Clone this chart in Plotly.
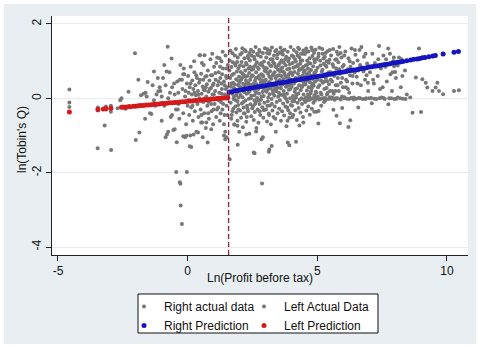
import plotly.graph_objects as go

# ---------------- data ----------------
threshold = 1.58
x_ticks = [-5, 0, 5, 10]
y_ticks = [-4, -2, 0, 2]
y_tick_text = ["-4", "-2", "0", "2"]
x_tick_text = ["-5", "0", "5", "10"]

right_actual = [
    (1.62,1.02),(1.64,0.55),(1.66,-0.12),(1.67,0.31),(1.69,0.84),(1.7,-0.45),(1.72,0.12),(1.73,1.21),(1.75,0.42),(1.76,-0.28),
    (1.78,0.66),(1.79,0.05),(1.8,-0.71),(1.82,0.93),(1.83,0.24),(1.85,-0.05),(1.86,1.33),(1.87,0.51),(1.88,-0.38),(1.9,0.72),
    (1.91,0.15),(1.92,-0.6),(1.93,1.1),(1.94,0.36),(1.95,-0.18),(1.96,0.81),(1.97,0.02),(1.98,0.58),(1.99,-0.9),(1.63,0.18),
    (1.68,-0.55),(1.74,0.97),(1.81,0.38),(1.84,-0.22),(1.89,0.2),(1.95,0.47),(1.71,0.63),(1.77,-0.02),(1.85,0.88),(1.92,-0.08),
    (2.01,0.44),(2.02,-0.33),(2.03,1.18),(2.04,0.09),(2.05,0.71),(2.06,-0.52),(2.07,0.27),(2.08,0.98),(2.09,-0.14),(2.1,0.55),
    (2.11,1.35),(2.12,0.03),(2.13,-0.78),(2.14,0.39),(2.15,0.86),(2.16,-0.25),(2.17,0.62),(2.18,0.17),(2.19,1.08),(2.2,-0.41),
    (2.21,0.33),(2.22,0.75),(2.23,-0.06),(2.24,1.27),(2.25,0.48),(2.26,-0.63),(2.27,0.12),(2.28,0.91),(2.29,-0.2),(2.3,0.6),
    (2.31,0.26),(2.32,1.14),(2.33,-0.35),(2.34,0.42),(2.35,0.8),(2.36,-0.01),(2.37,0.68),(2.38,-0.95),(2.39,0.2),(2.4,1.02),
    (2.41,0.5),(2.42,-0.16),(2.43,0.36),(2.44,1.31),(2.45,-0.48),(2.46,0.07),(2.47,0.77),(2.48,0.29),(2.49,-0.27),(2.05,0.3),
    (2.15,-0.1),(2.25,0.95),(2.35,0.15),(2.45,0.58),(2.12,0.66),(2.28,-0.5),(2.38,1.22),(2.44,0.0),
    (2.51,0.61),(2.52,-0.21),(2.53,1.25),(2.54,0.33),(2.55,-0.58),(2.56,0.85),(2.57,0.08),(2.58,1.05),(2.59,-0.37),(2.6,0.47),
    (2.61,0.19),(2.62,1.38),(2.63,-0.1),(2.64,0.7),(2.65,-0.8),(2.66,0.38),(2.67,0.97),(2.68,0.01),(2.69,0.56),(2.7,-0.3),
    (2.71,1.16),(2.72,0.25),(2.73,-0.66),(2.74,0.79),(2.75,0.13),(2.76,1.3),(2.77,-0.15),(2.78,0.52),(2.79,0.92),(2.8,-0.45),
    (2.81,0.3),(2.82,1.12),(2.83,-0.04),(2.84,0.65),(2.85,-1.1),(2.86,0.43),(2.87,0.88),(2.88,-0.24),(2.89,0.17),(2.9,1.22),
    (2.91,0.59),(2.92,-0.52),(2.93,0.06),(2.94,0.99),(2.95,0.35),(2.96,-0.12),(2.97,0.74),(2.98,1.35),(2.99,0.22),(2.55,0.4),
    (2.65,0.15),(2.75,0.6),(2.85,0.05),(2.95,0.83),(2.58,-0.05),(2.68,1.2),(2.78,-0.35),(2.88,0.48),(2.62,0.9),(2.92,0.28),
    (3.01,0.5),(3.02,-0.3),(3.03,1.1),(3.04,0.18),(3.05,0.81),(3.06,-0.62),(3.07,0.36),(3.08,1.32),(3.09,-0.08),(3.1,0.66),
    (3.11,0.02),(3.12,0.95),(3.13,-0.41),(3.14,0.44),(3.15,1.2),(3.16,0.11),(3.17,-0.19),(3.18,0.73),(3.19,0.28),(3.2,1.05),
    (3.21,-0.7),(3.22,0.53),(3.23,0.87),(3.24,-0.02),(3.25,1.37),(3.26,0.34),(3.27,-0.33),(3.28,0.62),(3.29,0.14),(3.3,0.97),
    (3.31,-0.5),(3.32,0.4),(3.33,1.15),(3.34,0.07),(3.35,0.7),(3.36,-0.22),(3.37,0.25),(3.38,1.27),(3.39,0.55),(3.4,-0.9),
    (3.41,0.19),(3.42,0.84),(3.43,-0.1),(3.44,0.46),(3.45,1.08),(3.46,0.3),(3.47,-0.4),(3.48,0.77),(3.49,0.04),(3.05,0.2),
    (3.15,0.58),(3.25,-0.15),(3.35,0.93),(3.45,0.6),(3.08,-0.2),(3.18,1.28),(3.28,0.22),(3.38,-0.55),(3.12,0.35),(3.42,1.3),
    (3.51,0.9),(3.52,0.15),(3.53,-0.28),(3.54,1.23),(3.55,0.49),(3.56,-0.05),(3.57,0.72),(3.58,1.36),(3.59,0.27),(3.6,-0.6),
    (3.61,0.6),(3.62,1.02),(3.63,0.09),(3.64,-0.35),(3.65,0.83),(3.66,0.38),(3.67,1.18),(3.68,-0.14),(3.69,0.52),(3.7,0.2),
    (3.71,0.96),(3.72,-0.46),(3.73,0.68),(3.74,1.31),(3.75,0.03),(3.76,0.41),(3.77,-0.22),(3.78,0.89),(3.79,0.31),(3.8,1.12),
    (3.81,-0.75),(3.82,0.57),(3.83,0.12),(3.84,0.78),(3.85,-0.09),(3.86,1.25),(3.87,0.45),(3.88,-0.32),(3.89,0.64),(3.9,0.23),
    (3.91,1.07),(3.92,-0.52),(3.93,0.36),(3.94,0.92),(3.95,0.0),(3.96,0.7),(3.97,1.38),(3.98,-0.18),(3.99,0.5),(3.55,0.1),
    (3.65,1.28),(3.75,0.62),(3.85,0.33),(3.95,-0.4),(3.6,0.8),(3.8,-0.02),(3.9,0.55),
    (4.01,0.31),(4.02,1.15),(4.03,-0.2),(4.04,0.63),(4.05,0.95),(4.06,0.06),(4.07,-0.45),(4.08,0.82),(4.09,1.3),(4.1,0.4),
    (4.11,-0.08),(4.12,0.71),(4.13,0.18),(4.14,1.05),(4.15,-0.32),(4.16,0.55),(4.17,0.99),(4.18,0.02),(4.19,0.47),(4.2,1.24),
    (4.21,-0.58),(4.22,0.27),(4.23,0.86),(4.24,-0.12),(4.25,0.66),(4.26,1.36),(4.27,0.13),(4.28,-0.26),(4.29,0.75),(4.3,0.35),
    (4.31,1.1),(4.32,-0.04),(4.33,0.58),(4.34,0.93),(4.35,-0.38),(4.36,0.22),(4.37,1.2),(4.38,0.48),(4.39,0.0),(4.4,0.79),
    (4.41,-0.15),(4.42,1.02),(4.43,0.33),(4.44,0.61),(4.45,-0.5),(4.46,1.29),(4.47,0.1),(4.48,0.7),(4.49,-0.03),(4.05,0.4),
    (4.15,0.25),(4.25,0.9),(4.35,0.5),(4.45,0.84),(4.1,-0.02),(4.3,1.33),
    (4.51,0.57),(4.52,1.19),(4.53,-0.1),(4.54,0.37),(4.55,0.88),(4.56,0.02),(4.57,1.34),(4.58,-0.33),(4.59,0.65),(4.6,0.21),
    (4.61,1.01),(4.62,-0.05),(4.63,0.49),(4.64,0.8),(4.65,-0.22),(4.66,1.26),(4.67,0.3),(4.68,0.7),(4.69,0.05),(4.7,1.08),
    (4.71,-0.44),(4.72,0.43),(4.73,0.94),(4.74,0.14),(4.75,-0.02),(4.76,0.76),(4.77,1.37),(4.78,0.27),(4.79,-0.28),(4.8,0.6),
    (4.81,1.14),(4.82,0.0),(4.83,0.52),(4.84,0.86),(4.85,-0.12),(4.86,0.34),(4.87,1.22),(4.88,0.68),(4.89,0.08),(4.9,0.97),
    (4.91,-0.06),(4.92,0.45),(4.93,1.31),(4.94,0.18),(4.95,0.74),(4.96,-0.36),(4.97,1.05),(4.98,0.58),(4.99,0.01),(4.6,0.9),
    (4.8,0.35),(4.7,-0.04),
    (5.01,0.82),(5.03,0.3),(5.05,1.2),(5.07,-0.03),(5.09,0.6),(5.11,1.01),(5.13,0.15),(5.15,-0.2),(5.17,0.72),(5.19,1.33),
    (5.21,0.42),(5.23,0.0),(5.25,0.93),(5.27,0.25),(5.29,1.12),(5.31,-0.06),(5.33,0.55),(5.35,0.85),(5.37,0.1),(5.39,1.27),
    (5.41,0.66),(5.43,-0.02),(5.45,0.38),(5.47,1.04),(5.49,0.2),(5.02,0.05),(5.08,1.36),(5.14,0.48),(5.2,0.77),(5.26,-0.1),
    (5.32,1.22),(5.38,0.46),(5.44,0.96),(5.48,0.03),(5.12,0.6),(5.36,0.28),(5.24,1.07),
    (5.51,0.7),(5.53,1.15),(5.55,0.02),(5.57,0.45),(5.59,0.92),(5.61,1.33),(5.63,0.12),(5.65,0.6),(5.67,-0.04),(5.69,1.04),
    (5.71,0.35),(5.73,0.8),(5.75,1.25),(5.77,0.0),(5.79,0.55),(5.81,0.97),(5.83,0.2),(5.85,1.38),(5.87,0.66),(5.89,-0.02),
    (5.91,0.42),(5.93,1.1),(5.95,0.05),(5.97,0.85),(5.99,0.3),(5.6,0.01),(5.8,1.18),(5.7,0.2),
    (6.02,0.9),(6.05,0.03),(6.08,1.26),(6.11,0.5),(6.14,-0.01),(6.17,0.78),(6.2,1.08),(6.23,0.15),(6.26,0.62),(6.29,0.0),
    (6.32,1.34),(6.35,0.4),(6.38,0.95),(6.41,0.02),(6.44,0.7),(6.47,1.17),(6.1,0.3),(6.25,1.0),(6.4,-0.03),(6.15,0.45),
    (6.52,0.58),(6.55,1.02),(6.6,0.01),(6.63,1.3),(6.68,0.35),(6.72,0.83),(6.75,-0.02),(6.8,1.12),(6.84,0.5),(6.88,0.0),
    (6.92,0.94),(6.96,0.2),(6.58,0.75),(6.7,1.38),(6.9,0.62),
    (7.03,0.7),(7.08,0.01),(7.12,1.2),(7.18,0.4),(7.22,0.95),(7.27,-0.02),(7.33,0.6),(7.38,1.41),(7.42,0.25),(7.47,0.02),
    (7.15,0.5),(7.35,1.05),
    (7.52,0.3),(7.56,0.01),(7.62,0.85),(7.68,0.45),(7.73,1.34),(7.77,0.0),(7.82,0.65),(7.88,0.2),(7.93,1.0),(7.97,-0.02),
    (8.03,0.55),(8.1,0.02),(8.15,1.1),(8.22,0.3),(8.3,-0.01),(8.38,0.75),(8.45,0.1),
    (4.62,-0.02),(4.9,0.0),(5.15,-0.01),(5.3,0.01),(5.55,-0.01),(5.72,0.0),(5.9,-0.03),(6.05,0.0),(6.22,-0.02),(6.33,0.01),
    (6.5,-0.01),(6.65,0.0),(6.85,-0.02),(7.0,0.0),(7.2,-0.01),(7.4,0.0),(7.6,-0.02),(7.85,0.0),(8.05,-0.01),(8.2,0.0),
    (8.4,-0.02),(7.55,1.15),(7.65,1.05),(7.8,1.2),(7.95,1.1),(8.1,0.88),(8.25,1.05),(7.45,0.8),(7.9,0.7),
    (8.8,0.56),(9.05,0.51),(9.18,0.42),(9.24,0.29),(9.44,0.2),(9.63,0.42),(9.69,0.2),(9.56,0.29),(9.85,0.11),(10.27,0.2),
    (10.46,0.22),(8.92,1.34),(8.28,0.6),(7.96,0.86),(8.0,0.71),(8.58,0.02),
    (1.62,-1.64),(2.58,-1.48),(3.13,-1.44),(2.87,-2.29),(1.93,-1.25),(2.55,-1.46),(3.15,-1.38),(3.24,-1.28),(2.9,-1.05),
    (2.64,-0.89),(2.26,-0.97),(1.92,-0.74),(1.8,-0.7),(3.86,-1.19),(3.92,-1.26),(4.18,-1.17),(4.31,-0.73),(4.46,-0.65),
    (5.04,-0.68),(5.87,-0.67),(6.2,-0.77),(6.27,-0.59),(5.74,-0.47),(5.62,-0.31),(5.05,-0.34),(4.88,-0.36),(4.04,-0.5),
    (3.85,-0.6),(6.58,-0.25),(7.1,-0.13),(7.74,-0.16),(5.96,-0.26),(8.67,-0.39),(9.0,-0.37),
    (1.61,0.75),(1.65,1.28),(1.69,0.4),(1.73,-0.35),(1.78,0.28),(1.82,1.15),(1.87,0.08),(1.91,0.98),(1.96,-0.3),(1.99,0.33),
    (2.02,0.88),(2.06,0.5),(2.09,1.22),(2.13,0.22),(2.17,-0.4),(2.2,1.3),(2.23,0.58),(2.27,0.4),(2.31,-0.28),(2.34,1.08),
    (2.37,0.35),(2.41,0.85),(2.46,1.15),(2.49,0.62),
    (2.52,0.78),(2.56,1.12),(2.6,-0.15),(2.63,0.55),(2.67,0.3),(2.71,0.82),(2.74,-0.05),(2.78,1.25),(2.82,0.42),(2.86,0.95),
    (2.9,0.62),(2.94,-0.32),(2.98,0.45),(3.02,0.72),(3.06,1.22),(3.1,0.25),(3.14,-0.45),(3.19,0.88),(3.23,0.4),(3.27,1.05),
    (3.31,0.65),(3.35,0.33),(3.39,0.85),(3.43,0.25),(3.47,1.18),
    (3.52,0.62),(3.56,0.95),(3.6,0.35),(3.64,1.2),(3.68,0.72),(3.72,0.1),(3.76,1.05),(3.8,0.45),(3.84,-0.25),(3.88,1.0),
    (3.92,0.8),(3.96,0.25),(4.0,0.68),(4.04,-0.08),(4.08,1.12),(4.12,0.5),(4.16,0.85),(4.2,0.1),(4.24,1.15),(4.28,0.55),
    (4.32,0.78),(4.36,1.02),(4.4,0.3),(4.44,1.2),(4.48,0.42),
    (4.52,0.75),(4.56,0.45),(4.6,1.25),(4.64,0.1),(4.68,0.95),(4.72,0.62),(4.76,0.2),(4.8,1.3),(4.84,0.4),(4.88,1.05),
    (4.92,0.7),(4.96,0.15),(5.0,0.5),(5.04,1.12),(5.08,0.35),(5.12,0.88),(5.16,0.1),(5.2,1.2),(5.24,0.62),(5.28,0.45),
    (5.32,0.88),(5.36,1.0),(5.4,0.15),(5.44,0.7),(5.48,1.3),
    (5.52,0.5),(5.58,0.2),(5.62,0.85),(5.68,0.65),(5.74,1.05),(5.78,0.35),(5.84,0.78),(5.9,1.22),(5.96,0.55),(6.04,1.15),
    (6.12,0.7),(6.18,0.25),(6.28,0.85),(6.36,0.6),(6.45,1.3),(6.55,0.4),(6.65,0.9),(6.78,0.72),(6.86,1.2),(6.95,0.42),
]

left_actual = [
    (1.55,0.9),(1.52,0.3),(1.5,-0.2),(1.48,0.6),(1.46,1.15),(1.44,0.1),(1.42,-0.45),(1.4,0.45),(1.38,0.02),(1.36,0.8),
    (1.34,-0.3),(1.32,0.25),(1.3,1.0),(1.28,-0.1),(1.26,0.55),(1.24,-0.6),(1.22,0.15),(1.2,0.7),(1.18,-0.25),(1.16,0.35),
    (1.14,1.1),(1.12,0.0),(1.1,-0.5),(1.08,0.5),(1.06,0.2),(1.04,-0.15),(1.02,0.85),(1.0,0.4),(0.98,-0.7),(0.96,0.1),
    (0.94,0.62),(0.92,-0.35),(0.9,0.28),(0.88,1.05),(0.86,-0.05),(0.84,0.48),(0.82,-0.55),(0.8,0.18),(0.78,0.75),(0.76,-0.2),
    (0.74,0.38),(0.72,0.05),(0.7,-0.8),(0.68,0.58),(0.66,0.22),(0.64,-0.4),(0.62,0.9),(0.6,-0.1),(0.58,0.32),(0.56,-0.65),
    (0.54,0.12),(0.52,0.66),(0.5,-0.3),(0.48,1.16),(0.46,0.0),(0.44,0.42),(0.42,-0.5),(0.4,0.2),(0.38,-0.15),(0.36,0.55),
    (0.34,-0.9),(0.32,0.08),(0.3,0.35),(0.28,-0.35),(0.26,0.7),(0.24,-0.05),(0.22,0.25),(0.2,-0.6),(0.18,0.48),(0.16,0.1),
    (0.14,-0.25),(0.12,0.85),(0.1,-1.0),(0.08,0.3),(0.06,-0.45),(0.04,0.15),(0.02,0.6),(0.0,-0.2),(-0.03,0.4),(-0.06,-0.7),
    (-0.1,0.05),(-0.13,0.65),(-0.17,-0.4),(-0.2,0.25),(-0.24,-0.1),(-0.28,0.9),(-0.32,-0.55),(-0.36,0.15),(-0.4,0.45),
    (-0.45,-0.3),(-0.5,0.1),(-0.55,-0.85),(-0.6,0.3),(-0.65,-0.5),(-0.7,0.7),(-0.75,0.0),(-0.8,-0.97),(-0.85,0.35),
    (-0.9,-0.2),(-0.95,0.55),(-1.0,-0.6),(-1.05,0.2),
    (1.5,0.55),(1.4,-0.7),(1.3,0.4),(1.2,-0.05),(1.1,0.95),(1.0,-0.3),(0.9,0.62),(0.8,-0.1),(0.7,0.3),(0.6,0.5),
    (1.45,-0.9),(1.35,1.25),(0.95,1.2),(0.55,0.95),(0.25,1.0),(-0.15,0.8),(1.53,-0.45),(1.47,0.25),(1.33,0.65),(1.27,-0.4),
    (0.46,1.16),(0.65,1.16),(1.23,1.08),(-0.77,1.39),(-0.62,1.07),(-0.81,0.72),(-2.03,1.21),(-1.54,0.44),(-2.28,0.18),
    (-1.8,0.08),(-1.7,0.12),(-1.62,0.15),(-1.58,0.05),(-1.13,0.19),(-1.08,0.3),(-3.2,-0.73),(-3.47,-1.34),(-2.95,-1.39),
    (-1.86,-0.92),(-2.0,-1.12),(-1.64,-0.55),(-1.45,-0.4),(-1.4,-0.42),(-0.75,-0.9),(-0.85,-1.05),(-0.5,-0.83),
    (-0.17,-1.02),(-0.1,-1.05),(0.08,-1.29),(-0.42,-1.18),(-0.6,-0.45),(-0.38,-0.3),(-0.3,0.5),(-0.17,0.65),
    (-4.56,0.24),(-4.56,-0.11),(-4.56,-0.23),(-3.46,-0.25),(-3.46,-0.33),(-3.15,-0.22),(-3.15,-0.3),(-2.96,-0.2),
    (-2.96,-0.28),(-2.96,-0.36),(-2.7,-0.27),(-2.5,-0.22),(-2.4,-0.28),(-2.2,-0.25),(-2.55,0.0),(-2.6,-0.05),(-1.3,-0.05),
    (-1.2,0.1),(-1.25,-0.2),(-1.9,0.5),(-1.3,0.72),
    (-0.44,-1.98),(-0.03,-1.98),(-0.3,-2.26),(-0.28,-2.3),(-0.27,-2.88),(-0.22,-3.38),(0.14,-1.31),(0.77,-1.19),
    (0.4,-0.92),(0.23,-0.97),(0.58,-1.05),(0.52,-0.65),(0.72,-0.65),(0.91,-0.83),(-0.05,-1.01),(1.4,-1.0),(1.45,-1.1),
    (1.5,-1.05),
    (1.56,0.1),(1.49,0.8),(1.43,0.35),(1.37,-0.15),(1.31,0.12),(1.25,0.85),(1.19,0.45),(1.13,-0.3),(1.07,0.68),(1.01,0.1),
    (0.97,0.35),(0.91,-0.15),(0.85,0.25),(0.79,-0.4),(0.73,0.6),(0.67,0.0),(0.61,0.25),(0.53,-0.45),(0.47,0.5),(0.41,0.1),
    (0.33,0.62),(0.27,0.15),(0.19,-0.2),(0.11,0.4),(0.03,-0.05),(-0.08,0.2),(-0.22,0.5),(-0.35,-0.15),(-0.52,0.4),
    (-0.68,0.15),(-0.9,0.9),(-1.15,0.55),(-1.35,0.35),(-1.0,0.05),
]

right_pred_x = [1.6,1.7,1.8,1.9,2.0,2.1,2.2,2.3,2.4,2.5,2.6,2.7,2.8,2.9,3.0,3.1,3.2,3.3,3.4,3.5,
                3.6,3.7,3.8,3.9,4.0,4.1,4.2,4.3,4.4,4.5,4.6,4.7,4.8,4.9,5.0,5.1,5.2,5.3,5.4,5.5,
                5.6,5.7,5.8,5.9,6.0,6.1,6.2,6.3,6.4,6.5,6.6,6.7,6.8,6.9,7.0,7.1,7.2,7.3,7.4,7.5,
                7.6,7.7,7.8,7.9,8.0,8.1,8.2,8.3,8.45,8.6,8.72,8.85,8.95,9.05,9.15,9.3,9.45,9.55,
                9.85,10.27,10.44]
right_pred_y = [0.17,0.18,0.20,0.21,0.22,0.23,0.25,0.26,0.27,0.28,0.30,0.31,0.32,0.33,0.34,0.36,0.37,0.38,0.39,0.41,
                0.42,0.43,0.44,0.45,0.47,0.48,0.49,0.50,0.52,0.53,0.54,0.55,0.57,0.58,0.59,0.60,0.61,0.63,0.64,0.65,
                0.66,0.68,0.69,0.70,0.71,0.72,0.74,0.75,0.76,0.77,0.79,0.80,0.81,0.82,0.84,0.85,0.86,0.87,0.88,0.90,
                0.91,0.92,0.93,0.95,0.96,0.97,0.98,0.99,1.01,1.03,1.05,1.06,1.07,1.09,1.10,1.12,1.14,1.15,
                1.19,1.24,1.26]

left_pred_x = [-4.56,-3.46,-3.25,-3.15,-2.96,-2.55,-2.45,-2.35,-2.25,-2.1,-2.0,-1.9,-1.8,-1.7,-1.6,-1.5,
               -1.4,-1.3,-1.2,-1.1,-1.0,-0.9,-0.8,-0.7,-0.6,-0.5,-0.4,-0.3,-0.2,-0.1,0.0,0.1,0.2,0.3,
               0.4,0.5,0.6,0.7,0.8,0.9,1.0,1.1,1.2,1.3,1.4,1.5,1.55]
left_pred_y = [-0.37,-0.30,-0.29,-0.28,-0.27,-0.24,-0.24,-0.23,-0.22,-0.21,-0.21,-0.20,-0.19,-0.19,-0.18,-0.18,
               -0.17,-0.16,-0.16,-0.15,-0.14,-0.14,-0.13,-0.12,-0.12,-0.11,-0.11,-0.10,-0.09,-0.09,-0.08,-0.07,-0.07,-0.06,
               -0.05,-0.05,-0.04,-0.04,-0.03,-0.02,-0.02,-0.01,0.00,0.00,0.01,0.01,0.02]

# ---------------- figure ----------------
W, H = 480, 348
ML, MR, MT, MB = 52, 12, 16, 93
PW, PH = W - ML - MR, H - MT - MB


def px(x):
    return (x - ML) / PW


def py(y):
    return (H - MB - y) / PH


FONT = "Liberation Sans, Arial, sans-serif"
GRAY = "#777777"

fig = go.Figure()
fig.add_trace(go.Scatter(
    x=[p[0] for p in right_actual], y=[p[1] for p in right_actual],
    mode="markers", name="Right actual data", legend="legend",
    marker=dict(color=GRAY, size=4, line=dict(width=0))))
fig.add_trace(go.Scatter(
    x=[p[0] for p in left_actual], y=[p[1] for p in left_actual],
    mode="markers", name="Left Actual Data", legend="legend2",
    marker=dict(color=GRAY, size=4, line=dict(width=0))))
fig.add_trace(go.Scatter(
    x=right_pred_x, y=right_pred_y, mode="markers", name="Right Prediction", legend="legend",
    marker=dict(color="#1414c0", size=5, line=dict(width=0))))
fig.add_trace(go.Scatter(
    x=left_pred_x, y=left_pred_y, mode="markers", name="Left Prediction", legend="legend2",
    marker=dict(color="#d41a1a", size=5, line=dict(width=0))))

annotations = [
    dict(text="Ln(Profit before tax)", xref="paper", yref="paper", x=0.5, y=py(278),
         xanchor="center", yanchor="middle", showarrow=False,
         font=dict(family=FONT, size=12, color="#111")),
    dict(text="ln(Tobin's Q)", xref="paper", yref="paper", x=px(22), y=py(140),
         xanchor="center", yanchor="middle", textangle=-90, showarrow=False,
         font=dict(family=FONT, size=12, color="#111")),
]

legend_common = dict(
    orientation="v", bgcolor="rgba(0,0,0,0)", borderwidth=0, indentation=-10,
    font=dict(family=FONT, size=12, color="#111"), tracegroupgap=0,
    xanchor="left", yanchor="top",
)

fig.update_layout(
    width=W, height=H,
    margin=dict(l=ML, r=MR, t=MT, b=MB, autoexpand=False),
    paper_bgcolor="#e8eef2", plot_bgcolor="white",
    annotations=annotations,
    showlegend=True,
    legend=dict(x=px(134), y=py(292), **legend_common),
    legend2=dict(x=px(254), y=py(292), **legend_common),
    font=dict(family=FONT, size=12, color="#111"),
    xaxis=dict(range=[-5.23, 10.81], tickvals=x_ticks, ticktext=x_tick_text,
               showgrid=False, zeroline=False, showline=True, linecolor="#222", linewidth=1,
               ticks="outside", ticklen=5, tickcolor="#222", tickfont=dict(size=12)),
    yaxis=dict(range=[-4.215, 2.215], tickvals=y_ticks, ticktext=y_tick_text, tickangle=-90,
               showgrid=True, gridcolor="#e6ecf0", gridwidth=1, zeroline=False,
               showline=True, linecolor="#222", linewidth=1,
               ticks="outside", ticklen=5, tickcolor="#222", tickfont=dict(size=12)),
)

# threshold line
fig.add_vline(x=threshold, line=dict(color="#8e2448", width=1.3, dash="5px,3px"))
# legend box
fig.add_shape(type="rect", xref="paper", yref="paper", x0=px(138), x1=px(378), y0=py(333), y1=py(294),
              line=dict(color="#111", width=1), fillcolor="white", layer="above")
# white outer frame
fig.add_shape(type="rect", xref="paper", yref="paper", x0=px(0), x1=px(W), y0=py(H), y1=py(0),
              line=dict(color="white", width=8), fillcolor="rgba(0,0,0,0)", layer="above")

fig.write_html("out.html")
